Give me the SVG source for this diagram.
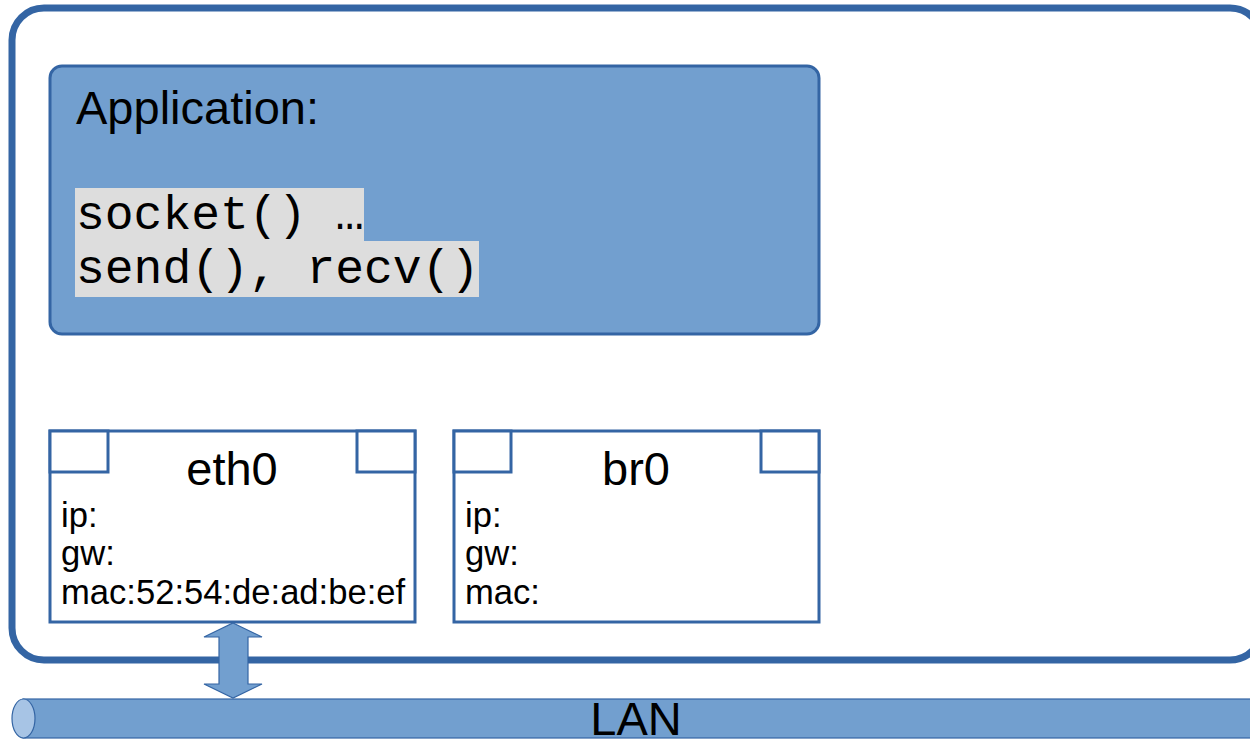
<svg xmlns="http://www.w3.org/2000/svg" width="1250" height="740" viewBox="0 0 1250 740">
<style>
.lbl{font-family:"Liberation Sans",Arial,sans-serif;fill:#000}
.mono{font-family:"Liberation Mono","Courier New",monospace;font-size:48px;fill:#000}
.box{fill:#fff;stroke:#3465a4;stroke-width:3}
.blue{fill:#729fcf;stroke:#3465a4}
</style>
<rect width="1250" height="740" fill="#fff"/>
<g id="host">
<rect x="12" y="8" width="1250" height="652" rx="32" fill="#fff" stroke="#3465a4" stroke-width="7"/>
</g>
<g id="application">
<rect x="50" y="66" width="769" height="268" rx="12" class="blue" stroke-width="3"/>
<text x="76" y="124" class="lbl" font-size="47">Application:</text>
<rect x="75" y="188" width="289" height="54" fill="#dddddd"/>
<rect x="75" y="241" width="404" height="56" fill="#dddddd"/>
<text x="76" y="229" class="mono">socket() …</text>
<text x="76" y="283" class="mono">send(), recv()</text>
</g>
<g id="eth0">
<rect x="50" y="431" width="365" height="191" class="box"/>
<rect x="50" y="431" width="58" height="41" class="box"/>
<rect x="357" y="431" width="58" height="41" class="box"/>
<text x="232" y="485" class="lbl" font-size="47" text-anchor="middle">eth0</text>
<text x="61" y="527" class="lbl" font-size="34.6">ip:</text>
<text x="61" y="565" class="lbl" font-size="34.6">gw:</text>
<text x="61" y="604" class="lbl" font-size="34.6">mac:52:54:de:ad:be:ef</text>
</g>
<g id="br0">
<rect x="454" y="431" width="365" height="191" class="box"/>
<rect x="454" y="431" width="57" height="41" class="box"/>
<rect x="761" y="431" width="58" height="41" class="box"/>
<text x="636" y="485" class="lbl" font-size="47" text-anchor="middle">br0</text>
<text x="465" y="527" class="lbl" font-size="34.6">ip:</text>
<text x="465" y="565" class="lbl" font-size="34.6">gw:</text>
<text x="465" y="604" class="lbl" font-size="34.6">mac:</text>
</g>
<g id="lan">
<rect x="23" y="699" width="1240" height="39" class="blue" stroke-width="1.2"/>
<ellipse cx="23.5" cy="718.5" rx="11.5" ry="19.5" fill="#a7c4e5" stroke="#3465a4" stroke-width="1.2"/>
<text x="636" y="735" class="lbl" font-size="47" text-anchor="middle">LAN</text>
</g>
<g id="connectors">
<polygon points="233,623 262,637 248,637 248,684 262,684 233,698 204,684 219,684 219,637 204,637" class="blue" stroke-width="1.2"/>
</g>
</svg>
